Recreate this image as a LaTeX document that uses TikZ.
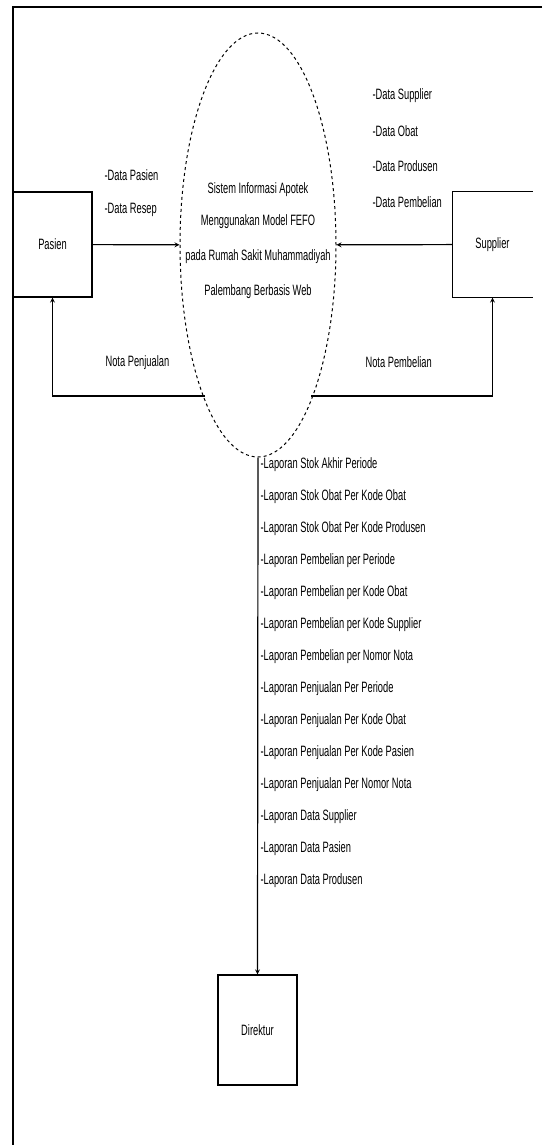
\documentclass[tikz,border=0pt]{standalone}
\usepackage{fontspec}
\usepackage{tikz}
\usetikzlibrary{shapes.geometric}
\newfontfamily\narrowfont[FakeStretch=0.62]{Liberation Sans}
\tikzset{
    entitas/.style={rectangle,minimum width=79pt,minimum height=105pt,inner sep=0pt},
    aliran/.style={->,>=stealth,line width=1.2pt},
    label/.style={anchor=west,inner sep=0pt}
}

\begin{document}
\begin{tikzpicture}[x=1pt,y=-1pt,font=\narrowfont\fontsize{15}{17}\selectfont,line width=1.2pt]
    \useasboundingbox (0,0) rectangle (542,1145);
    % Frame
    \draw (542,7) -- (13,7) -- (13,1145);

    % Proses
    \node[draw,dashed,ellipse,minimum width=156pt,minimum height=424pt,inner sep=0pt,line width=1pt] (sistem) at (258,245) {};
    \node at (258,190) {Sistem Informasi Apotek};
    \node at (258,222) {Menggunakan Model FEFO};
    \node at (258,257) {pada Rumah Sakit Muhammadiyah};
    \node at (258,292) {Palembang Berbasis Web};

    % Entitas
    \node[entitas,draw] (pasien) at (52.5,244.5) {Pasien};
    \node[entitas] (supplier) at (492.5,244.5) {Supplier};
    \draw (supplier.north east) -- (supplier.north west) -- (supplier.south west) -- (supplier.south east);
    \node[entitas,minimum height=110pt,draw] (direktur) at (257.5,1030) {Direktur};

    % Pasien
    \draw[aliran] (pasien) -- (sistem);
    \node[label] at (104,175) {-Data Pasien};
    \node[label] at (104,210) {-Data Resep};
    \coordinate (kiri) at (205,396);
    \draw[aliran] (kiri) -| (pasien.south);
    \node[label] at (105,363) {Nota Penjualan};

    % Supplier
    \draw[aliran] (supplier) -- (sistem);
    \foreach \t [count=\i] in {-Data Supplier,-Data Obat,-Data Produsen,-Data Pembelian}
        \node[label] at (372,60+35.5*\i) {\t};
    \coordinate (kanan) at (311,396);
    \draw[aliran] (kanan) -| (supplier.south);
    \node[label] at (365,362) {Nota Pembelian};

    % Direktur
    \draw[aliran] (sistem.south) -- (direktur.north);
    \foreach \t [count=\i] in {-Laporan Stok Akhir Periode,-Laporan Stok Obat Per Kode Obat,
        -Laporan Stok Obat Per Kode Produsen,-Laporan Pembelian per Periode,
        -Laporan Pembelian per Kode Obat,-Laporan Pembelian per Kode Supplier,
        -Laporan Pembelian per Nomor Nota,-Laporan Penjualan Per Periode,
        -Laporan Penjualan Per Kode Obat,-Laporan Penjualan Per Kode Pasien,
        -Laporan Penjualan Per Nomor Nota,-Laporan Data Supplier,
        -Laporan Data Pasien,-Laporan Data Produsen}
        \node[label] at (260,433+32*\i) {\t};
\end{tikzpicture}
\end{document}
